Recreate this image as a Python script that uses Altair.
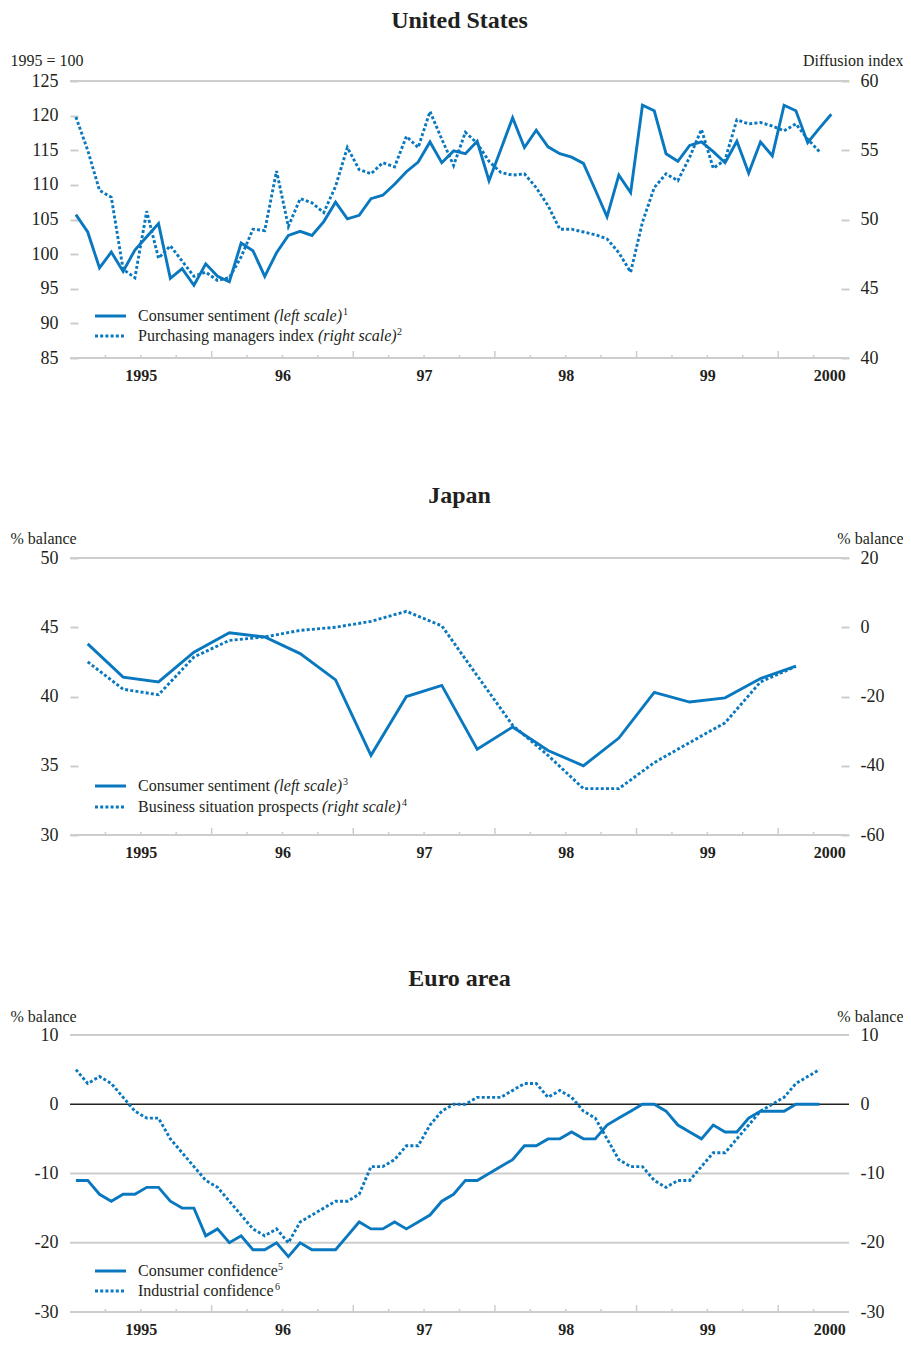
import altair as alt
import pandas as pd

# ---------------- data ----------------
# United States, monthly from Jan 1995
us_consumer_sentiment = [
    105.7, 103.2, 98.0, 100.3, 97.5, 100.6, 102.5, 104.4, 96.5, 97.9, 95.5, 98.6,
    96.8, 96.0, 101.6, 100.5, 96.8, 100.2, 102.7, 103.3, 102.7, 104.7, 107.5, 105.1,
    105.6, 108.0, 108.5, 110.1, 111.9, 113.3, 116.2, 113.2, 114.9, 114.5, 116.3, 110.6,
    115.1, 119.7, 115.4, 117.9, 115.5, 114.5, 114.0, 113.1, 109.3, 105.4, 111.4, 108.9,
    121.5, 120.7, 114.5, 113.4, 115.7, 116.2, 114.8, 113.2, 116.3, 111.7, 116.2, 114.2,
    121.5, 120.7, 116.1, 118.2, 120.2]
us_purchasing_managers = [
    57.4, 55.0, 52.1, 51.6, 46.4, 45.8, 50.6, 47.2, 48.1, 47.0, 45.9, 46.2,
    45.6, 45.8, 47.3, 49.3, 49.2, 53.5, 49.5, 51.5, 51.2, 50.5, 52.4, 55.2,
    53.6, 53.3, 54.1, 53.8, 56.0, 55.2, 57.8, 55.8, 53.9, 56.3, 55.5, 54.2,
    53.4, 53.2, 53.3, 52.3, 51.0, 49.3, 49.3, 49.1, 48.9, 48.6, 47.6, 46.2,
    49.8, 52.3, 53.3, 52.8, 54.5, 56.5, 53.7, 54.3, 57.2, 56.9, 57.0, 56.75,
    56.4, 56.9, 55.8, 54.9]

# Japan, quarterly from 1995 Q1
jp_consumer_sentiment = [43.8, 41.4, 41.05, 43.2, 44.6, 44.3, 43.1, 41.2, 35.75, 40.0, 40.8,
                         36.2, 37.8, 36.1, 35.0, 37.0, 40.3, 39.6, 39.9, 41.3, 42.2]
jp_business_prospects = [-10.0, -17.9, -19.5, -8.6, -3.8, -2.8, -0.9, 0.0, 1.7, 4.6, 0.4,
                         -14.0, -28.3, -37.0, -46.6, -46.6, -39.1, -33.3, -27.6, -15.8, -11.3]

# Euro area, monthly from Jan 1995
ea_consumer_confidence = [
    -11, -11, -13, -14, -13, -13, -12, -12, -14, -15, -15, -19,
    -18, -20, -19, -21, -21, -20, -22, -20, -21, -21, -21, -19,
    -17, -18, -18, -17, -18, -17, -16, -14, -13, -11, -11, -10,
    -9, -8, -6, -6, -5, -5, -4, -5, -5, -3, -2, -1,
    0, 0, -1, -3, -4, -5, -3, -4, -4, -2, -1, -1,
    -1, 0, 0, 0]
ea_industrial_confidence = [
    5, 3, 4, 3, 1, -1, -2, -2, -5, -7, -9, -11,
    -12, -14, -16, -18, -19, -18, -20, -17, -16, -15, -14, -14,
    -13, -9, -9, -8, -6, -6, -3, -1, 0, 0, 1, 1,
    1, 2, 3, 3, 1, 2, 1, -1, -2, -5, -8, -9,
    -9, -11, -12, -11, -11, -9, -7, -7, -5, -3, -1, 0,
    1, 3, 4, 5]

year_labels = ["1995", "96", "97", "98", "99", "2000"]
year_label_pos = [1995.5, 1996.5, 1997.5, 1998.5, 1999.5, 2000.36]
year_starts = [1996, 1997, 1998, 1999, 2000]
quarter_marks = [1995.25, 1995.5, 1995.75, 1996.25, 1996.5, 1996.75, 1997.25, 1997.5, 1997.75,
                 1998.25, 1998.5, 1998.75, 1999.25, 1999.5, 1999.75, 2000.25]

us_left_ticks = [125, 120, 115, 110, 105, 100, 95, 90, 85]
us_right_ticks = [60, 55, 50, 45, 40]
jp_left_ticks = [50, 45, 40, 35, 30]
jp_right_ticks = [20, 0, -20, -40, -60]
ea_ticks = [10, 0, -10, -20, -30]

# ---------------- styling ----------------
W, H = 779, 277
BLUE = "#0a78bf"
GRID = "#cdcdcd"
TEXT = "#231f20"
SERIF = "Liberation Serif"
DOT = [3, 2.2]
LW = 2.9
dummy = alt.Data(values=[{}])

xscale = alt.Scale(domain=[1995, 2000.5], nice=False, zero=False)
expr = "'" + year_labels[-1] + "'"
for p, lab in reversed(list(zip(year_label_pos[:-1], year_labels[:-1]))):
    expr = f"datum.value < {p + 0.2} ? '{lab}' : {expr}"
xaxis = alt.Axis(values=year_label_pos, labelExpr=expr, ticks=False, domain=False, grid=False,
                 title=None, labelFont=SERIF, labelFontSize=16, labelFontWeight="bold",
                 labelColor=TEXT, labelPadding=9, labelAngle=0, labelFlush=False,
                 labelOverlap=False)


def monthly(values):
    return pd.DataFrame({"t": [1995 + (i + 0.5) / 12 for i in range(len(values))], "v": values})


def quarterly(values):
    return pd.DataFrame({"t": [1995 + (i + 0.5) / 4 for i in range(len(values))], "v": values})


def yaxis(values, title, orient, inner_ticks, title_x, title_y):
    kw = dict(values=values, orient=orient, title=title, grid=False, domain=False,
              labelFont=SERIF, labelFontSize=18, labelColor=TEXT,
              labelExpr="'' + datum.value", labelFlush=False, labelOverlap=False,
              titleFont=SERIF, titleFontSize=16, titleFontWeight="normal", titleColor=TEXT,
              titleAngle=0, titleAlign="left" if orient == "left" else "right",
              titleBaseline="alphabetic", titleX=title_x, titleY=title_y)
    if inner_ticks:
        kw.update(ticks=True, tickSize=8, tickColor=GRID, tickWidth=2, offset=-8,
                  labelPadding=12 if orient == "left" else 11)
    else:
        kw.update(ticks=False, labelPadding=12 if orient == "left" else 11)
    return alt.Axis(**kw)


def text(s, x, y, size=16, style="normal", weight="normal", align="left"):
    return alt.Chart(dummy).mark_text(font=SERIF, fontSize=size, fontStyle=style,
                                      fontWeight=weight, color=TEXT, align=align,
                                      baseline="alphabetic").encode(
        x=alt.value(x), y=alt.value(y), text=alt.value(s))


def legend_row(y, dashed, parts):
    layers = [alt.Chart(dummy).mark_rule(color=BLUE, strokeWidth=LW, strokeCap="butt",
                                         strokeDash=DOT if dashed else [1, 0]).encode(
        x=alt.value(25), x2=alt.value(56), y=alt.value(y))]
    for s, x, kind in parts:
        if kind == "sup":
            layers.append(text(s, x, y - 1, size=10))
        elif kind == "it":
            layers.append(text(s, x, y + 5, style="italic"))
        else:
            layers.append(text(s, x, y + 5))
    return layers


def panel(title, title_y, left_df, right_df, left_dom, right_dom, left_ticks, right_ticks,
          left_title, right_title, axis_title_y, inner_ticks, grid_gray, grid_black,
          legend1, legend2, leg_y):
    off = 8 if inner_ticks else 0
    xenc = alt.X("t:Q", scale=xscale, axis=xaxis)
    yl = alt.Y("v:Q", scale=alt.Scale(domain=left_dom, nice=False, zero=False),
               axis=yaxis(left_ticks, left_title, "left", inner_ticks, -60 - off, axis_title_y))
    yr = alt.Y("v:Q", scale=alt.Scale(domain=right_dom, nice=False, zero=False),
               axis=yaxis(right_ticks, right_title, "right", inner_ticks, 54 + off, axis_title_y))

    left_layers = [
        alt.Chart(pd.DataFrame({"v": grid_gray})).mark_rule(color=GRID, strokeWidth=2).encode(
            y=yl, x=alt.value(0), x2=alt.value(W)),
    ]
    if grid_black:
        left_layers.append(
            alt.Chart(pd.DataFrame({"v": grid_black})).mark_rule(color="#222222", strokeWidth=1.6)
            .encode(y=yl, x=alt.value(0), x2=alt.value(W)))
    left_layers += [
        alt.Chart(pd.DataFrame({"t": quarter_marks})).mark_rule(color=GRID, strokeWidth=1.5)
        .encode(x=xenc, y=alt.value(H - 3), y2=alt.value(H)),
        alt.Chart(pd.DataFrame({"t": year_starts})).mark_rule(color=GRID, strokeWidth=1.5)
        .encode(x=xenc, y=alt.value(H - 7), y2=alt.value(H)),
        alt.Chart(left_df).mark_line(color=BLUE, strokeWidth=LW).encode(x=xenc, y=yl),
        text(title, W / 2, title_y, size=24, weight="bold", align="center"),
    ]
    left_layers += legend_row(leg_y[0], False, legend1)
    left_layers += legend_row(leg_y[1], True, legend2)

    right_layer = alt.Chart(right_df).mark_line(color=BLUE, strokeWidth=LW, strokeCap="butt",
                                                strokeDash=DOT).encode(x=xenc, y=yr)
    return alt.layer(alt.layer(*left_layers), alt.layer(right_layer)).resolve_scale(
        y="independent").properties(width=W, height=H)


us = panel("United States", -53.5, monthly(us_consumer_sentiment), monthly(us_purchasing_managers),
           [85, 125], [40, 60], us_left_ticks, us_right_ticks, "1995 = 100", "Diffusion index",
           -16, True, [125, 85], [],
           [("Consumer sentiment ", 68, "n"), ("(left scale)", 204, "it"), ("1", 273, "sup")],
           [("Purchasing managers index ", 68, "n"), ("(right scale)", 248, "it"), ("2", 327, "sup")],
           (235, 255))
jp = panel("Japan", -55, quarterly(jp_consumer_sentiment), quarterly(jp_business_prospects),
           [30, 50], [-60, 20], jp_left_ticks, jp_right_ticks, "% balance", "% balance",
           -14.5, True, [50, 30], [],
           [("Consumer sentiment ", 68, "n"), ("(left scale)", 204, "it"), ("3", 273, "sup")],
           [("Business situation prospects ", 68, "n"), ("(right scale)", 252, "it"), ("4", 332, "sup")],
           (228, 249))
ea = panel("Euro area", -49, monthly(ea_consumer_confidence), monthly(ea_industrial_confidence),
           [-30, 10], [-30, 10], ea_ticks, ea_ticks, "% balance", "% balance",
           -14, False, [10, -10, -20, -30], [0],
           [("Consumer confidence", 68, "n"), ("5", 208, "sup")],
           [("Industrial confidence", 68, "n"), ("6", 205, "sup")],
           (236, 256))

chart = alt.vconcat(us, jp, ea, spacing=200, bounds="flush").properties(
    padding={"left": 2, "top": 0, "right": 0, "bottom": -1},
    background="white",
).configure_view(stroke=None)

chart.save("out.html", embed_options={"renderer": "svg", "actions": False})
